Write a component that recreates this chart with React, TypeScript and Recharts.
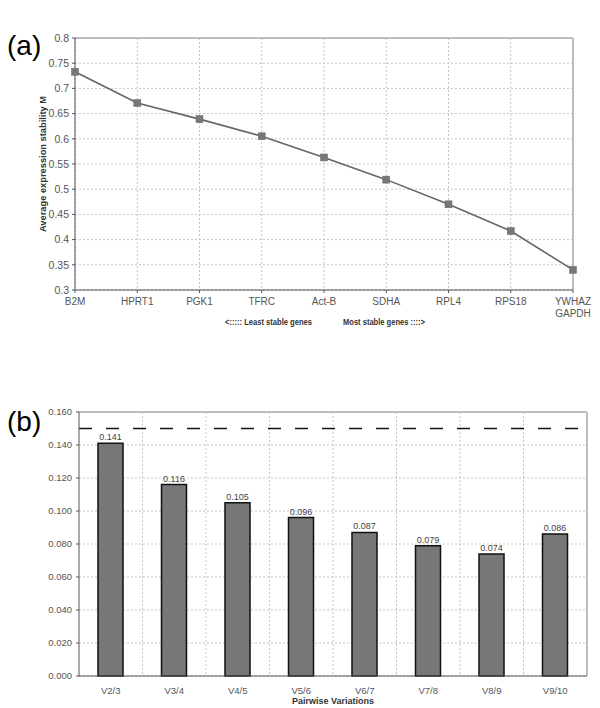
import { LineChart, Line, BarChart, Bar, XAxis, YAxis, CartesianGrid, ReferenceLine, LabelList } from 'recharts'

// (a) geNorm average expression stability, least -> most stable
const GENES = ['B2M', 'HPRT1', 'PGK1', 'TFRC', 'Act-B', 'SDHA', 'RPL4', 'RPS18', 'YWHAZ\nGAPDH']
const STABILITY_M = [0.733, 0.671, 0.639, 0.605, 0.563, 0.519, 0.47, 0.417, 0.34]
const M_TICKS = [0.3, 0.35, 0.4, 0.45, 0.5, 0.55, 0.6, 0.65, 0.7, 0.75, 0.8]

// (b) pairwise variation V n/n+1
const PAIRS = ['V2/3', 'V3/4', 'V4/5', 'V5/6', 'V6/7', 'V7/8', 'V8/9', 'V9/10']
const PAIRWISE_V = [0.141, 0.116, 0.105, 0.096, 0.087, 0.079, 0.074, 0.086]
const V_TICKS = [0, 0.02, 0.04, 0.06, 0.08, 0.1, 0.12, 0.14, 0.16]
const V_CUTOFF = 0.15

const FONT = "'Liberation Sans', Arial, sans-serif"
const TXT = '#555'
const AXIS = '#555'
const GRID = '#c4c4c4'
const BORDER = '#bdbdbd'

const stabilityData = GENES.map((g, i) => ({ gene: g, m: STABILITY_M[i] }))
const pairwiseData = PAIRS.map((p, i) => ({ pair: p, v: PAIRWISE_V[i] }))

function SquareDot(props: any) {
  const { cx, cy } = props
  if (cx == null || cy == null) return null
  return <rect x={cx - 3.5} y={cy - 3.5} width={7} height={7} fill="#777" stroke="#6a6a6a" strokeWidth={0.5} />
}

function GeneTick({ x, y, payload }: any) {
  const lines = String(payload.value).split('\n')
  return (
    <text x={x} y={y} textAnchor="middle" fill={TXT} fontSize={10} fontFamily={FONT}>
      {lines.map((l, i) => (
        <tspan key={i} x={x} dy={i === 0 ? 10 : 12}>{l}</tspan>
      ))}
    </text>
  )
}

const yTitle = (text: string, cx: number) => (props: any) => {
  const vb = props.viewBox || {}
  const cy = vb.y + vb.height / 2
  return (
    <text x={cx} y={cy} transform={`rotate(-90 ${cx} ${cy})`} textAnchor="middle"
      fontSize={9} fontWeight="bold" fontFamily={FONT} fill="#333"
      textLength={136} lengthAdjust="spacingAndGlyphs">{text}</text>
  )
}

function StabilityCaption(props: any) {
  const vb = props.viewBox || {}
  const mid = vb.x + vb.width / 2
  const y = vb.y + 35
  return (
    <g fontSize={9} fontWeight="bold" fontFamily={FONT} fill="#333">
      <text x={mid - 99} y={y} textLength={87} lengthAdjust="spacingAndGlyphs">{'<:::::  Least stable genes'}</text>
      <text x={mid + 19} y={y} textLength={82} lengthAdjust="spacingAndGlyphs">{'Most stable genes ::::>'}</text>
    </g>
  )
}

function PairwiseTitle(props: any) {
  const vb = props.viewBox || {}
  return (
    <text x={vb.x + vb.width / 2} y={vb.y + 28} textAnchor="middle"
      fontSize={9} fontWeight="bold" fontFamily={FONT} fill="#333">Pairwise Variations</text>
  )
}

const panelTag: React.CSSProperties = {
  position: 'absolute', left: 7, fontFamily: FONT,
  fontSize: 28, lineHeight: '28px', color: '#000',
}

export default function App() {
  return (
    <div style={{ position: 'absolute', left: 0, top: 0, width: 600, height: 708, background: '#fff' }}>
      <div style={{ ...panelTag, top: 32 }}>(a)</div>
      <div style={{ ...panelTag, top: 408 }}>(b)</div>

      <div style={{ position: 'absolute', left: 0, top: 0 }}>
        <LineChart width={600} height={345} data={stabilityData}
          margin={{ top: 38, right: 27, left: 0, bottom: 0 }}>
          <CartesianGrid stroke={GRID} strokeDasharray="2 2" />
          <CartesianGrid stroke={BORDER} strokeWidth={2}
            horizontalCoordinatesGenerator={({ offset }: any) => [offset.top]}
            verticalCoordinatesGenerator={({ offset }: any) => [offset.left + offset.width]} />
          <XAxis dataKey="gene" scale="point" interval={0} height={55}
            axisLine={{ stroke: AXIS }} tickLine={{ stroke: AXIS }} tickSize={3}
            tick={<GeneTick />} label={{ content: StabilityCaption }} />
          <YAxis type="number" domain={[0.3, 0.8]} ticks={M_TICKS} width={75}
            axisLine={{ stroke: AXIS }} tickLine={{ stroke: AXIS }} tickSize={3} tickMargin={3}
            tick={{ fill: TXT, fontSize: 10.5, fontFamily: FONT }}
            label={{ content: yTitle('Average expression stability M', 46) }} />
          <Line dataKey="m" stroke="#666" strokeWidth={1.6} dot={<SquareDot />}
            activeDot={false} isAnimationActive={false} />
        </LineChart>
      </div>

      <div style={{ position: 'absolute', left: 0, top: 360 }}>
        <BarChart width={600} height={348} data={pairwiseData}
          margin={{ top: 52, right: 13, left: 0, bottom: 0 }}>
          <CartesianGrid stroke={GRID} strokeDasharray="2 2"
            verticalCoordinatesGenerator={({ offset }: any) =>
              PAIRS.map((_, i) => offset.left + (offset.width * (i + 1)) / PAIRS.length)} />
          <CartesianGrid stroke={BORDER} strokeWidth={2}
            horizontalCoordinatesGenerator={({ offset }: any) => [offset.top]}
            verticalCoordinatesGenerator={({ offset }: any) => [offset.left + offset.width]} />
          <XAxis dataKey="pair" interval={0} height={32}
            axisLine={{ stroke: AXIS }} tickLine={false} tickMargin={5}
            tick={{ fill: TXT, fontSize: 9.5, fontFamily: FONT }}
            label={{ content: PairwiseTitle }} />
          <YAxis type="number" domain={[0, 0.16]} ticks={V_TICKS} width={79}
            axisLine={{ stroke: AXIS }} tickLine={{ stroke: AXIS }} tickSize={3} tickMargin={4}
            tickFormatter={(v: number) => v.toFixed(3)}
            tick={{ fill: TXT, fontSize: 9.5, fontFamily: FONT }} />
          <ReferenceLine y={V_CUTOFF} stroke="#111" strokeWidth={1.5} strokeDasharray="13 14" />
          <Bar dataKey="v" fill="#777" stroke="#111" strokeWidth={1.5} barSize={25}
            isAnimationActive={false}>
            <LabelList dataKey="v" position="top" offset={3}
              formatter={(v: any) => Number(v).toFixed(3)}
              style={{ fill: '#444', fontSize: 9, fontFamily: FONT }} />
          </Bar>
        </BarChart>
      </div>
    </div>
  )
}
